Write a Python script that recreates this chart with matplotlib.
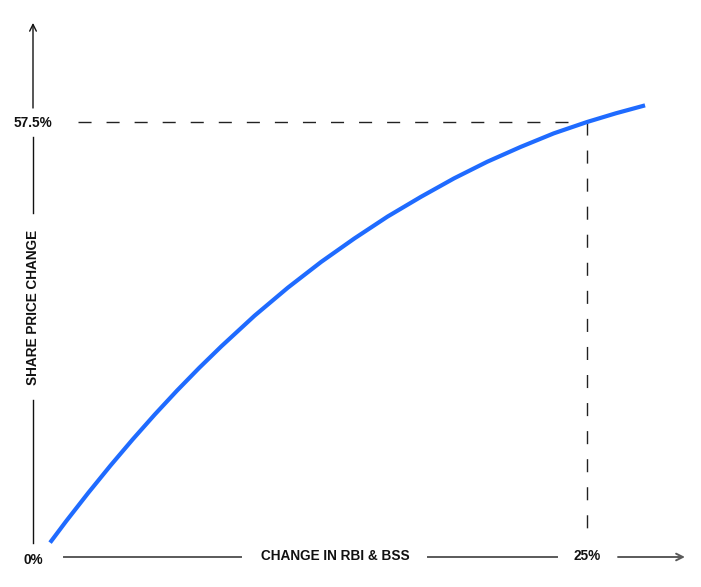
import matplotlib
matplotlib.use("Agg")
import matplotlib.pyplot as plt

# values (percent)
rbi_bss_change = [0.77, 1.5, 2.5, 3.5, 4.5, 5.5, 6.5, 7.5, 8.5, 10.0, 11.5,
                  13.0, 14.5, 16.0, 17.5, 19.0, 20.5, 22.0, 23.5, 25.0, 26.3, 27.62]
share_price_change = [1.9, 4.75, 8.5, 12.1, 15.55, 18.85, 22.0, 25.0, 27.85, 31.9, 35.6,
                      39.0, 42.1, 45.0, 47.6, 50.05, 52.25, 54.2, 56.0, 57.5, 58.65, 59.7]
mark_x = 25.0
mark_y = 57.5
x_label = "CHANGE IN RBI & BSS"
y_label = "SHARE PRICE CHANGE"

plt.rcParams['font.family'] = ['Liberation Sans', 'DejaVu Sans']

fig = plt.figure(figsize=(7.01, 5.87), dpi=100)
ax = fig.add_axes([0, 0, 1, 1])
# 1 % on x ~ 22.16 px, 1 % on y ~ 7.565 px, origin at pixel (33, 557)
ax.set_xlim(-33 / 22.16, (701 - 33) / 22.16)
ax.set_ylim((557 - 587) / 7.565, 557 / 7.565)
ax.axis("off")

blue = "#1f6bff"
ink = "#111111"
fs = 9.8

# the curve
ax.plot(rbi_bss_change, share_price_change, color=blue, lw=3,
        solid_capstyle="butt", solid_joinstyle="round", zorder=3)

# dashed guides
dash = (0, (9.4, 10.8))
ax.plot([2.03, mark_x], [mark_y, mark_y], color="#222222", lw=1, linestyle=dash)
ax.plot([mark_x, mark_x], [mark_y, 2.9], color="#222222", lw=1, linestyle=dash)

# y axis (broken around labels)
ax.plot([0, 0], [1.85, 20.75], color=ink, lw=1)
ax.plot([0, 0], [45.5, 55.5], color=ink, lw=1)
ax.annotate("", xy=(0, 70.6), xytext=(0, 59.35),
            arrowprops=dict(arrowstyle="->", color=ink, lw=1, mutation_scale=12,
                            shrinkA=0, shrinkB=0))

# x axis (broken around labels)
grey = "#5a5a5a"
ax.plot([1.40, 9.39], [0, 0], color=grey, lw=1.4)
ax.plot([17.83, 23.65], [0, 0], color=grey, lw=1.4)
ax.annotate("", xy=(29.42, 0), xytext=(26.4, 0),
            arrowprops=dict(arrowstyle="->", color=grey, lw=1.4, mutation_scale=12,
                            shrinkA=0, shrinkB=0))

# labels
bold = dict(fontsize=fs, fontweight="bold", color=ink, ha="center", va="center")
ax.text(0, -0.35, "0%", **bold)
ax.text(0, mark_y - 0.1, "57.5%", **bold)
ax.text(mark_x, 0.1, "25%", **bold)
ax.text(13.63, 0.1, x_label, **bold)
ax.text(0, 33.0, y_label, rotation=90, **bold)

fig.savefig("out.png", dpi=100)
